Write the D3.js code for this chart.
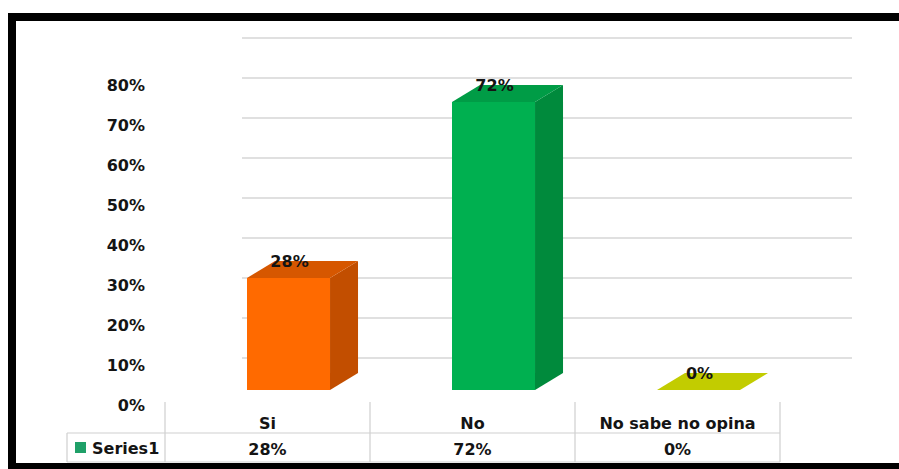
<!DOCTYPE html>
<html>
<head>
<meta charset="utf-8">
<script src="https://cdn.jsdelivr.net/npm/d3@7"></script>
<style>
  html, body { margin: 0; padding: 0; background: #fff; }
  svg { display: block; }
  text { font-family: "DejaVu Sans", Verdana, sans-serif; font-weight: bold; fill: #141414; }
</style>
</head>
<body>
<svg id="chart" width="899" height="469"></svg>
<script>
// Survey answers and their shares
const categories = ["Si", "No", "No sabe no opina"];
const values = [0.28, 0.72, 0.00];
const seriesName = "Series1";
const yTicks = [0, 0.1, 0.2, 0.3, 0.4, 0.5, 0.6, 0.7, 0.8];

// Face colours per bar: front, side, top
const frontColors = ["#ff6a00", "#00b050", "#c2cc00"];
const sideColors  = ["#c24e00", "#008a3c", "#a6b300"];
const topColors   = ["#d65700", "#009c46", "#b8c600"];
const legendColor = "#1fa068";

const svg = d3.select("#chart");
const W = 899, H = 469;

// frame
svg.append("rect").attr("x", 0).attr("y", 0).attr("width", W).attr("height", H).attr("fill", "#fff");
svg.append("rect").attr("x", 8).attr("y", 13).attr("width", W - 8).attr("height", 8).attr("fill", "#000");
svg.append("rect").attr("x", 8).attr("y", 13).attr("width", 8).attr("height", H - 13).attr("fill", "#000");
svg.append("rect").attr("x", 8).attr("y", 463).attr("width", W - 8).attr("height", 6).attr("fill", "#000");

// scales
const x = d3.scaleBand().domain(categories).range([165, 780]).paddingInner(0).paddingOuter(0);
const y = d3.scaleLinear().domain([0, 0.8]).range([390, 70]);
const fmt = d3.format(".0%");

// 3D offsets
const wallDy = -32;                 // back wall relative to the front floor line
const depthDx = 28, depthDy = -17;  // bar depth

// back-wall gridlines
svg.append("g").selectAll("line").data(yTicks).join("line")
  .attr("x1", 242).attr("x2", 852)
  .attr("y1", d => y(d) + wallDy).attr("y2", d => y(d) + wallDy)
  .attr("stroke", "#d6d6d6").attr("stroke-width", 1.6);

// y-axis labels
const yAxis = d3.axisLeft(d3.scaleLinear().domain([0, 0.8]).range([405, 85]))
  .tickValues(yTicks).tickFormat(fmt).tickSize(0).tickPadding(0);
const gy = svg.append("g").attr("transform", "translate(145,0)").call(yAxis);
gy.select(".domain").remove();
gy.selectAll("text").attr("font-size", 16).attr("fill", "#141414")
  .attr("font-family", "DejaVu Sans, Verdana, sans-serif").attr("font-weight", "bold")
  .attr("dy", "0.36em");

// bars
const bars = svg.append("g");
categories.forEach((c, i) => {
  const v = values[i];
  const x0 = x(c) + x.bandwidth() * 0.4;
  const w = x.bandwidth() * 0.405;
  const yb = y(0), yt = y(v);
  const g = bars.append("g");
  if (v > 0) {
    // side face
    g.append("path")
      .attr("d", `M${x0 + w},${yt} L${x0 + w + depthDx},${yt + depthDy} L${x0 + w + depthDx},${yb + depthDy} L${x0 + w},${yb} Z`)
      .attr("fill", sideColors[i]);
    // front face
    g.append("rect").attr("x", x0).attr("y", yt).attr("width", w).attr("height", yb - yt)
      .attr("fill", frontColors[i]);
  }
  // top face
  g.append("path")
    .attr("d", `M${x0},${yt} L${x0 + depthDx},${yt + depthDy} L${x0 + w + depthDx},${yt + depthDy} L${x0 + w},${yt} Z`)
    .attr("fill", v > 0 ? topColors[i] : frontColors[i]);
  // value label
  svg.append("text")
    .attr("x", x0 + w / 2 + 1).attr("y", yt - 17)
    .attr("dy", "0.36em").attr("text-anchor", "middle").attr("font-size", 16)
    .text(fmt(v));
});

// data table
const tbl = svg.append("g").attr("stroke", "#cfcfcf").attr("stroke-width", 1.2);
const colEdges = [x.range()[0]].concat(categories.map(c => x(c) + x.bandwidth()));
colEdges.forEach(e => {
  tbl.append("line").attr("x1", e).attr("x2", e).attr("y1", 402).attr("y2", 462);
});
tbl.append("line").attr("x1", 67).attr("x2", 67).attr("y1", 433).attr("y2", 462);
tbl.append("line").attr("x1", 67).attr("x2", 780).attr("y1", 433).attr("y2", 433);
tbl.append("line").attr("x1", 67).attr("x2", 780).attr("y1", 462).attr("y2", 462);

svg.append("g").selectAll("text").data(categories).join("text")
  .attr("x", d => x(d) + x.bandwidth() / 2).attr("y", 423)
  .attr("dy", "0.36em").attr("text-anchor", "middle").attr("font-size", 16)
  .text(d => d);

svg.append("g").selectAll("text").data(values).join("text")
  .attr("x", (d, i) => x(categories[i]) + x.bandwidth() / 2).attr("y", 449)
  .attr("dy", "0.36em").attr("text-anchor", "middle").attr("font-size", 16)
  .text(d => fmt(d));

// legend key in the table
svg.append("rect").attr("x", 75).attr("y", 442).attr("width", 11).attr("height", 11).attr("fill", legendColor);
svg.append("text").attr("x", 92).attr("y", 448).attr("dy", "0.36em").attr("font-size", 16).text(seriesName);
</script>
</body>
</html>
